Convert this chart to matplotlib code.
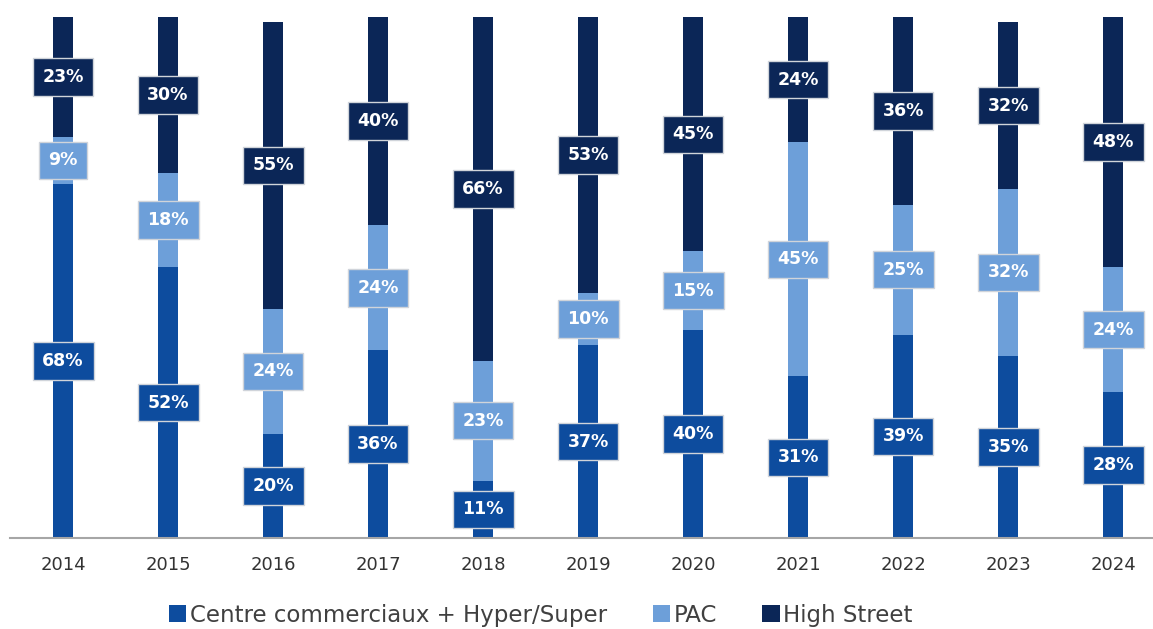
import matplotlib
matplotlib.use("Agg")
import matplotlib.pyplot as plt
from matplotlib.patches import Patch

years = ["2014", "2015", "2016", "2017", "2018", "2019", "2020", "2021", "2022", "2023", "2024"]
centres = [68, 52, 20, 36, 11, 37, 40, 31, 39, 35, 28]
pac = [9, 18, 24, 24, 23, 10, 15, 45, 25, 32, 24]
high_street = [23, 30, 55, 40, 66, 53, 45, 24, 36, 32, 48]

series_names = ["Centre commerciaux + Hyper/Super", "PAC", "High Street"]
colors = ["#0d4c9e", "#6d9fd9", "#0b2657"]

fig = plt.figure(figsize=(11.53, 6.29), dpi=100)
ax = fig.add_axes([10 / 1153, (629 - 538) / 629, 1143 / 1153, 521 / 629])

x = list(range(len(years)))
bar_w = 0.19
bottoms = [0] * len(years)
for vals, color in zip([centres, pac, high_street], colors):
    ax.bar(x, vals, width=bar_w, bottom=bottoms, color=color, zorder=2)
    for xi, b, v in zip(x, bottoms, vals):
        ax.text(xi, b + v / 2, f"{v}%", ha="center", va="center",
                fontsize=12.5, fontweight="bold", color="white", family="DejaVu Sans",
                zorder=3,
                bbox=dict(boxstyle="square,pad=0.56", facecolor=color,
                          edgecolor="#d0d4da", linewidth=1.0))
    bottoms = [b + v for b, v in zip(bottoms, vals)]

ax.set_xlim(-0.505, 10.38)
ax.set_ylim(0, 100)
ax.set_xticks(x)
ax.set_xticklabels(years, fontsize=13, color="#333333", family="DejaVu Sans")
ax.tick_params(axis="x", length=0, pad=13)
ax.set_yticks([])
for side in ["top", "right", "left"]:
    ax.spines[side].set_visible(False)
ax.spines["bottom"].set_color("#a6a6a6")
ax.spines["bottom"].set_linewidth(1.5)

handles = [Patch(facecolor=c, edgecolor="none") for c in colors]
fig.legend(handles, series_names, loc="center", bbox_to_anchor=(0.469, 0.022),
           ncol=3, frameon=False, handlelength=0.75, handleheight=0.75,
           handletextpad=0.15, columnspacing=2.0,
           prop={"family": "DejaVu Sans", "size": 16.5})
for t in fig.legends[0].get_texts():
    t.set_color("#404040")

fig.savefig("out.png", dpi=100)
